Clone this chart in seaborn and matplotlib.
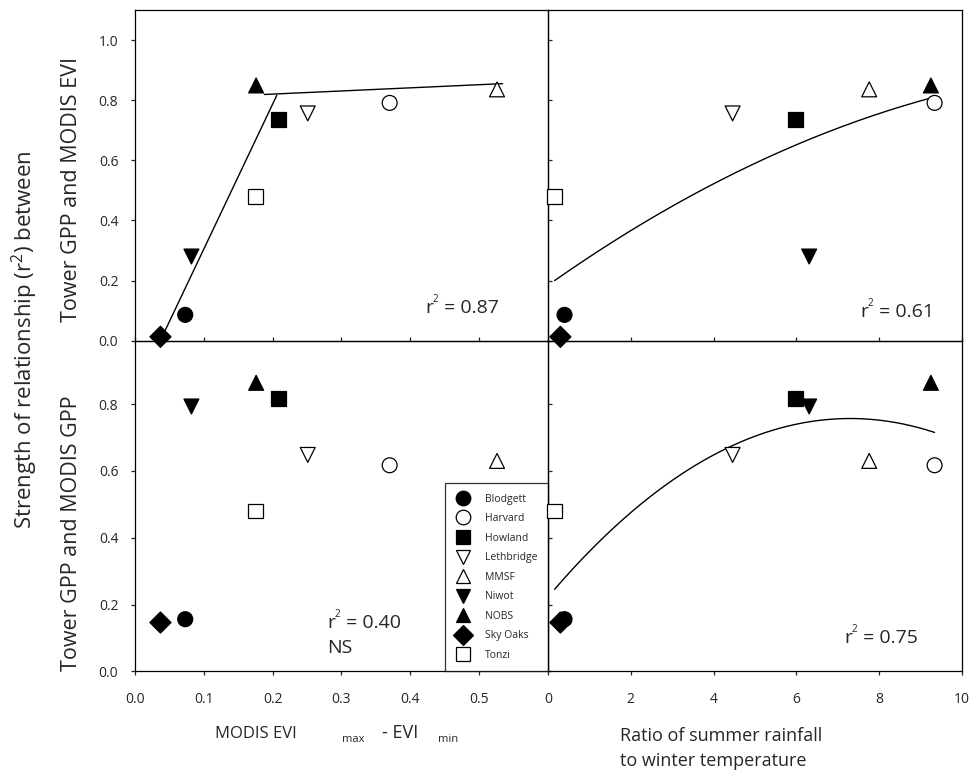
import numpy as np
import pandas as pd
import matplotlib
matplotlib.use("Agg")
import matplotlib.pyplot as plt
import seaborn as sns
from matplotlib.lines import Line2D
from matplotlib.ticker import FormatStrFormatter

# ---------------- data ----------------
sites = ["Blodgett", "Harvard", "Howland", "Lethbridge", "MMSF",
         "Niwot", "NOBS", "Sky Oaks", "Tonzi"]
site_markers = ["o", "o", "s", "v", "^", "v", "^", "D", "s"]
site_fills = ["black", "white", "black", "white", "white",
              "black", "black", "black", "white"]

evi_range = [0.073, 0.370, 0.209, 0.251, 0.526, 0.082, 0.176, 0.037, 0.175]
rain_temp_ratio = [0.40, 9.34, 5.97, 4.46, 7.76, 6.31, 9.25, 0.30, 0.16]
r2_evi = [0.086, 0.791, 0.736, 0.756, 0.836, 0.280, 0.849, 0.013, 0.480]
r2_gpp = [0.156, 0.617, 0.817, 0.648, 0.630, 0.793, 0.864, 0.146, 0.480]

# piecewise fit (top-left)
seg1_x = [0.043, 0.206]
seg1_y = [0.030, 0.816]
seg2_x = [0.188, 0.534]
seg2_y = [0.819, 0.855]
# quadratic fits (right panels): a + b x + c x^2
quad_evi = [0.1845, 0.0973, -0.00324]
quad_evi_range = [0.16, 9.27]
quad_gpp = [0.2225, 0.14644, -0.01003]
quad_gpp_range = [0.16, 9.34]

r2_labels = ["0.87", "0.61", "0.40", "0.75"]

df = pd.DataFrame({"site": sites, "evi": evi_range, "ratio": rain_temp_ratio,
                   "r2_evi": r2_evi, "r2_gpp": r2_gpp})
marker_map = dict(zip(sites, site_markers))
fill_map = dict(zip(sites, site_fills))

# ---------------- style ----------------
sns.set_style("ticks")
plt.rcParams["font.family"] = ["Open Sans", "DejaVu Sans"]
plt.rcParams["mathtext.fontset"] = "custom"
plt.rcParams["mathtext.rm"] = "Open Sans"
plt.rcParams["mathtext.it"] = "Open Sans:italic"
plt.rcParams["mathtext.bf"] = "Open Sans:bold"

fig = plt.figure(figsize=(9.69, 7.74), dpi=100)
ax_tl = fig.add_axes([0.1393, 0.5598, 0.4262, 0.4273])
ax_tr = fig.add_axes([0.5655, 0.5598, 0.4272, 0.4273])
ax_bl = fig.add_axes([0.1393, 0.1327, 0.4262, 0.4271])
ax_br = fig.add_axes([0.5655, 0.1327, 0.4272, 0.4271])

panels = [(ax_tl, "evi", "r2_evi"), (ax_tr, "ratio", "r2_evi"),
          (ax_bl, "evi", "r2_gpp"), (ax_br, "ratio", "r2_gpp")]

for ax, xc, yc in panels:
    ax.patch.set_visible(False)
    sns.scatterplot(data=df, x=xc, y=yc, hue="site", style="site",
                    palette=fill_map, markers=marker_map, s=115,
                    edgecolor="black", linewidth=0.9, legend=False,
                    ax=ax, clip_on=False, zorder=3)
    ax.set_xlabel("")
    ax.set_ylabel("")
    for sp in ax.spines.values():
        sp.set_visible(True)
        sp.set_linewidth(0.9)
        sp.set_color("black")

# fit lines
sns.lineplot(x=seg1_x, y=seg1_y, color="black", lw=1.0, sort=False,
             estimator=None, ax=ax_tl)
sns.lineplot(x=seg2_x, y=seg2_y, color="black", lw=1.0, sort=False,
             estimator=None, ax=ax_tl)
xq = np.linspace(quad_evi_range[0], quad_evi_range[1], 200)
sns.lineplot(x=xq, y=quad_evi[0] + quad_evi[1] * xq + quad_evi[2] * xq ** 2,
             color="black", lw=1.0, sort=False, estimator=None, ax=ax_tr)
xq2 = np.linspace(quad_gpp_range[0], quad_gpp_range[1], 200)
sns.lineplot(x=xq2, y=quad_gpp[0] + quad_gpp[1] * xq2 + quad_gpp[2] * xq2 ** 2,
             color="black", lw=1.0, sort=False, estimator=None, ax=ax_br)

# axes limits / ticks
for ax in (ax_tl, ax_bl):
    ax.set_xlim(0, 0.6)
    ax.set_xticks(np.arange(0, 0.51, 0.1))
    ax.xaxis.set_major_formatter(FormatStrFormatter("%.1f"))
    ax.tick_params(axis="y", direction="out", length=3, width=0.9, pad=9,
                   labelsize=10)
for ax in (ax_tr, ax_br):
    ax.set_xlim(0, 10)
    ax.set_xticks([0, 2, 4, 6, 8, 10])
    ax.tick_params(axis="y", direction="in", length=3, width=0.9,
                   labelleft=False)
for ax in (ax_tl, ax_tr):
    ax.set_ylim(0, 1.1)
    ax.set_yticks(np.arange(0, 1.01, 0.2))
    ax.yaxis.set_major_formatter(FormatStrFormatter("%.1f"))
    ax.tick_params(axis="x", direction="in", length=3, width=0.9,
                   labelbottom=False)
for ax in (ax_bl, ax_br):
    ax.set_ylim(0, 0.99)
    ax.set_yticks(np.arange(0, 0.81, 0.2))
    ax.yaxis.set_major_formatter(FormatStrFormatter("%.1f"))
    ax.tick_params(axis="x", direction="out", length=3, width=0.9, pad=12,
                   labelsize=10)

# r^2 annotations built from pieces (small superscript)
renderer = fig.canvas.get_renderer()


def r2_text(ax, x, y, value, fs=14):
    t1 = ax.text(x, y, "r", transform=ax.transAxes, fontsize=fs,
                 ha="left", va="baseline")
    bb = t1.get_window_extent(renderer)
    x0, y0 = ax.transAxes.transform((x, y))
    x_sup = bb.x1 - 0.5
    t2 = fig.text(x_sup / fig.bbox.width, (y0 + fs * 0.78) / fig.bbox.height,
                  "2", fontsize=fs * 0.52, ha="left", va="baseline")
    bb2 = t2.get_window_extent(renderer)
    fig.text((bb2.x1 + 0.5) / fig.bbox.width, y0 / fig.bbox.height,
             " = " + value, fontsize=fs, ha="left", va="baseline")


r2_text(ax_tl, 0.702, 0.084, r2_labels[0])
r2_text(ax_tr, 0.754, 0.072, r2_labels[1])
r2_text(ax_bl, 0.465, 0.131, r2_labels[2])
ax_bl.text(0.465, 0.055, "NS", transform=ax_bl.transAxes, fontsize=14,
           ha="left", va="baseline")
r2_text(ax_br, 0.715, 0.086, r2_labels[3])

# legend
handles = [Line2D([0], [0], marker=m, linestyle="none", markersize=10.5,
                  markerfacecolor=f, markeredgecolor="black",
                  markeredgewidth=0.9, label=s)
           for s, m, f in zip(sites, site_markers, site_fills)]
leg = ax_bl.legend(handles=handles, loc="lower right", bbox_to_anchor=(1, 0),
                   borderaxespad=0, frameon=True, fancybox=False,
                   fontsize=7.5, labelspacing=0.82, handlelength=1.4,
                   handletextpad=1.4, borderpad=1.0)
leg.get_frame().set_edgecolor("black")
leg.get_frame().set_linewidth(0.9)
leg.set_zorder(5)

# axis labels
fig.text(0.0258, 0.5607, r"Strength of relationship ($\mathrm{r}^{2}$) between",
         rotation=90, ha="center", va="center", fontsize=16)
fig.text(0.0743, 1 - 189 / 774, "Tower GPP and MODIS EVI", rotation=90,
         ha="center", va="center", fontsize=15.5)
fig.text(0.0743, 1 - 533 / 774, "Tower GPP and MODIS GPP", rotation=90,
         ha="center", va="center", fontsize=15.5)

fig.text(215 / 969, 1 - 738 / 774, "MODIS EVI", fontsize=12,
         ha="left", va="baseline")
fig.text(342 / 969, 1 - 742 / 774, "max", fontsize=8,
         ha="left", va="baseline")
fig.text(382 / 969, 1 - 738 / 774, "- EVI", fontsize=13,
         ha="left", va="baseline")
fig.text(438 / 969, 1 - 742 / 774, "min", fontsize=8,
         ha="left", va="baseline")

fig.text(620 / 969, 1 - 741 / 774, "Ratio of summer rainfall", fontsize=13,
         ha="left", va="baseline")
fig.text(620 / 969, 1 - 766 / 774, "to winter temperature", fontsize=13,
         ha="left", va="baseline")

fig.savefig("out.png", dpi=100)
